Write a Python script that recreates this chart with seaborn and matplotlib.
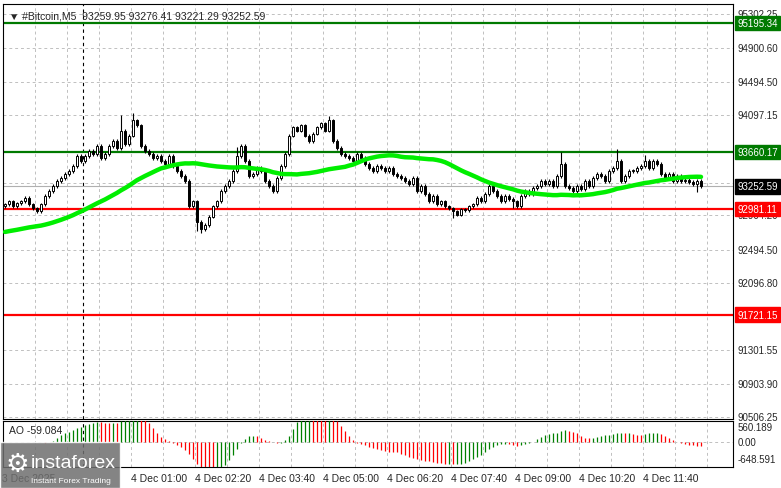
import numpy as np
import pandas as pd
import matplotlib
matplotlib.use("Agg")
import matplotlib.pyplot as plt
import matplotlib.transforms as mtrans
import seaborn as sns

closes = [93036,93072,93012,93048,93072,93109,93036,92988,92952,93036,
          93133,93193,93253,93313,93350,93398,93434,93494,93615,93554,
          93615,93675,93639,93735,93590,93639,93735,93795,93711,93916,
          93759,93856,94036,93976,93735,93675,93639,93590,93615,93554,
          93518,93615,93494,93434,93374,93313,93012,93072,92831,92747,
          92795,92892,93012,93072,93193,93253,93313,93434,93615,93735,
          93554,93374,93398,93470,93434,93313,93253,93193,93350,93494,
          93639,93856,93952,93916,93976,93856,93795,93880,93952,94000,
          93916,94036,93795,93711,93639,93615,93590,93554,93639,93590,
          93518,93470,93434,93494,93470,93434,93470,93398,93374,93350,
          93313,93277,93350,93193,93253,93157,93072,93133,93036,93072,
          93012,92988,92952,92916,92976,92964,93012,93036,93109,93072,
          93157,93253,93193,93133,93072,93133,93097,93072,93012,93133,
          93193,93157,93229,93253,93313,93277,93313,93253,93374,93518,
          93253,93229,93193,93253,93217,93313,93253,93350,93398,93374,
          93313,93434,93470,93554,93313,93374,93434,93434,93470,93494,
          93554,93470,93554,93518,93398,93350,93398,93313,93374,93313,
          93325,93301,93277,93313,93253]
spikes = {29: (94100, None), 32: (94120, None), 58: (93720, None), 48: (None, 92720),
          49: (None, 92700), 81: (94090, None), 139: (93660, None), 153: (93690, None),
          160: (93620, None), 112: (None, 92880), 127: (None, 92990), 173: (None, 93180)}
ma_seed = 92700
levels_green = [95195.34, 93660.17]
levels_red = [92981.11, 91721.15]
last_price = 93252.59
price_ticks = [95302.25, 94900.60, 94494.50, 94097.15, 93291.85, 92904.20, 92494.50,
               92096.80, 91301.55, 90903.90, 90506.25]
time_labels = ["3 Dec 2025", "4 Dec 01:00", "4 Dec 02:20", "4 Dec 03:40", "4 Dec 05:00",
               "4 Dec 06:20", "4 Dec 07:40", "4 Dec 09:00", "4 Dec 10:20", "4 Dec 11:40"]
time_pos = [-0.8, 31.5, 47.5, 63.5, 79.5, 95.5, 111.5, 127.5, 143.5, 159.5]

sns.set_style("white")
plt.rcParams['font.family'] = ['Liberation Sans', 'DejaVu Sans']

c = np.array(closes, dtype=float)
o = np.concatenate([[c[0] - 20], c[:-1]])
hi = np.maximum(o, c) + 22
lo = np.minimum(o, c) - 22
for k, (h, l) in spikes.items():
    if h: hi[k] = h
    if l: lo[k] = l
n = len(c)
x = np.arange(n)
df = pd.DataFrame({"x": x, "close": c})
pad = 40
ma = pd.concat([pd.Series([ma_seed] * pad), df["close"]]).rolling(40).mean().iloc[pad:].values
df["ma"] = ma

W, H = 781, 489
fig = plt.figure(figsize=(W / 100, H / 100), dpi=100)
ax = fig.add_axes([3 / W, 1 - 420 / H, 730 / W, 415 / H])
ax2 = fig.add_axes([3 / W, 1 - 468 / H, 730 / W, 46 / H])
ytop = 95542.5 - 12.05 * 10
ybot = 95542.5 - 12.05 * 420
for a in (ax, ax2):
    a.set_xlim(-0.5, 182)
    a.set_xticks([]); a.set_yticks([])
    for s in a.spines.values():
        s.set_color("black"); s.set_linewidth(0.8)
ax.set_ylim(ybot, ytop)

gkw = dict(color="#c0c0c0", lw=0.7, ls=(0, (3, 3)), zorder=0)
for k in np.arange(7.5, 182, 8):
    ax.axvline(k, **gkw); ax2.axvline(k, **gkw)
ax.axvline(19.5, color="black", lw=0.8, ls=(0, (3, 3)), zorder=1)
ax2.axvline(19.5, color="black", lw=0.8, ls=(0, (3, 3)), zorder=1)
for p in price_ticks:
    ax.axhline(p, **gkw)

ax.axhline(last_price, color="#b0b0b0", lw=0.8, zorder=1)
for lv in levels_green:
    ax.axhline(lv, color="#007a00", lw=1.6, zorder=2)
for lv in levels_red:
    ax.axhline(lv, color="#ff0000", lw=1.6, zorder=2)

ax.vlines(x, lo, hi, color="black", lw=0.8, zorder=3)
bull = c >= o
ax.bar(x[bull], np.maximum(c - o, 8)[bull], bottom=o[bull], width=0.7, color="white",
       edgecolor="black", linewidth=0.7, zorder=4)
ax.bar(x[~bull], (o - c)[~bull], bottom=c[~bull], width=0.7, color="black",
       edgecolor="black", linewidth=0.7, zorder=4)
sns.lineplot(data=df, x="x", y="ma", ax=ax, color="#00ee00", lw=3.2, zorder=5, legend=False)
ax.set_xlabel(""); ax.set_ylabel("")

tr = mtrans.blended_transform_factory(ax.transAxes, ax.transData)
for p in price_ticks:
    ax.text(1.006, p, f"{p:.2f}", transform=tr, fontsize=7, va="center", ha="left")
boxes = [(95195.34, "#007a00"), (93660.17, "#007a00"), (92981.11, "#ff0000"),
         (91721.15, "#ff0000"), (last_price, "black")]
for p, col in boxes:
    ax.text(1.006, p, f"{p:.2f}", transform=tr, fontsize=7, va="center", ha="left",
            color="white", zorder=10,
            bbox=dict(boxstyle="square,pad=0.25", fc=col, ec=col))
ax.text(0.008, 0.985, "▼ #Bitcoin,M5  93259.95 93276.41 93221.29 93252.59",
        transform=ax.transAxes, fontsize=7.5, va="top")

# AO
med = (hi + lo) / 2
s = pd.Series(med)
ao = (s.rolling(5, min_periods=1).mean() - s.rolling(34, min_periods=1).mean()).values * 2.0
colors = ["#008000" if i == 0 or ao[i] >= ao[i - 1] else "#ff0000" for i in range(n)]
ax2.vlines(x, 0, ao, colors=colors, lw=0.9, zorder=3)
ax2.set_ylim(-930, 780)
ax2.axhline(0, **gkw)
tr2 = mtrans.blended_transform_factory(ax2.transAxes, ax2.transData)
for v, t in [(560.189, "560.189"), (0, "0.00"), (-648.591, "-648.591")]:
    ax2.text(1.006, v, t, transform=tr2, fontsize=7, va="center")
ax2.text(0.008, 0.92, "AO -59.084", transform=ax2.transAxes, fontsize=7.5, va="top")

for t, pp in zip(time_labels, time_pos):
    ax2.text(pp, -0.12, t, transform=mtrans.blended_transform_factory(ax2.transData, ax2.transAxes),
             fontsize=7.5, va="top", ha="left")

fig.patches.append(plt.Rectangle((0, 0), 120 / W, 46 / H, transform=fig.transFigure,
                                 fc="#6f6f6f", alpha=0.85, zorder=10))
fig.text(31 / W, 25 / H, "instaforex", fontsize=14, color="white", va="center", zorder=11)
fig.text(31 / W, 6 / H, "Instant Forex Trading", fontsize=6, color="white", zorder=11)
fig.text(5 / W, 24 / H, "⚙", fontsize=19, color="white", va="center", zorder=11,
         family="DejaVu Sans")

fig.savefig("out.png", dpi=100)
